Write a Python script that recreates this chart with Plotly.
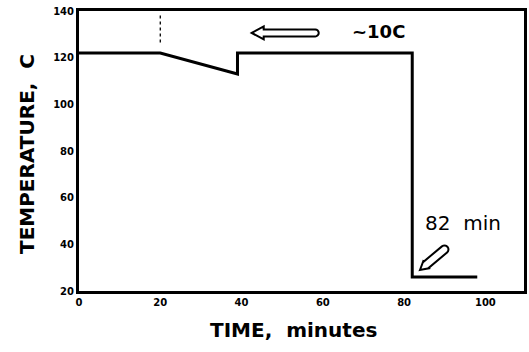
import numpy as np
import plotly.graph_objects as go

# Temperature profile over time
time_min = [0, 20, 39, 39, 82, 82, 98]
temp_c = [122, 122, 113, 122, 122, 26, 26]

x_ticks = [0, 20, 40, 60, 80, 100]
y_ticks = [20, 40, 60, 80, 100, 120, 140]

# dotted marker at the start of the ramp
marker_time = 20
marker_temp = [126.5, 139]


def hollow_arrow(length, head_len, head_half, shaft_half, angle_deg):
    """Outline of a hollow arrow, tip at the origin, in pixel offsets (y up)."""
    pts = [(0, 0), (head_len, head_half), (head_len, shaft_half),
           (length - shaft_half, shaft_half)]
    # rounded tail
    for a in np.linspace(90, -90, 9)[1:-1]:
        r = np.radians(a)
        pts.append((length - shaft_half + shaft_half * np.cos(r), shaft_half * np.sin(r)))
    pts += [(length - shaft_half, -shaft_half), (head_len, -shaft_half),
            (head_len, -head_half)]
    t = np.radians(angle_deg)
    c, s = np.cos(t), np.sin(t)
    rot = [(px * c - py * s, px * s + py * c) for px, py in pts]
    return "M" + " L".join(f"{px:.2f},{py:.2f}" for px, py in rot) + " Z"


FONT = "DejaVu Sans"

fig = go.Figure()
fig.add_trace(go.Scatter(x=time_min, y=temp_c, mode="lines",
                         line=dict(color="black", width=3), showlegend=False))
fig.add_trace(go.Scatter(x=[marker_time, marker_time], y=marker_temp, mode="lines",
                         line=dict(color="black", width=1.3, dash="dot"), showlegend=False))

# left-pointing arrow next to the "~10C" note
fig.add_shape(type="path", xref="x", yref="y", xsizemode="pixel", ysizemode="pixel",
              xanchor=42.5, yanchor=130.6,
              path=hollow_arrow(67, 12, 6.5, 3.5, 0),
              line=dict(color="black", width=2), fillcolor="white")
# diagonal arrow pointing at the drop time
fig.add_shape(type="path", xref="x", yref="y", xsizemode="pixel", ysizemode="pixel",
              xanchor=83.9, yanchor=29,
              path=hollow_arrow(36, 8, 4.5, 4, 40),
              line=dict(color="black", width=2), fillcolor="white")

fig.add_annotation(x=73.6, y=131.4, text="<b>~10C</b>", showarrow=False,
                   font=dict(family=FONT, size=18, color="black"))
fig.add_annotation(x=94.6, y=49.1, text="82  min", showarrow=False,
                   font=dict(family=FONT, size=20, color="black"))

# axis titles
fig.add_annotation(xref="paper", yref="paper", x=-0.118, y=0.491, xanchor="center",
                   yanchor="middle", textangle=-90, showarrow=False,
                   text="<b>TEMPERATURE,  C</b>",
                   font=dict(family=FONT, size=20, color="black"))
fig.add_annotation(xref="paper", yref="paper", x=0.482, y=-0.139, xanchor="center",
                   yanchor="middle", showarrow=False,
                   text="<b>TIME,  minutes</b>",
                   font=dict(family=FONT, size=20, color="black"))

axis_common = dict(showline=True, mirror=True, linecolor="black", linewidth=3,
                   showgrid=False, zeroline=False, ticks="",
                   tickfont=dict(family=FONT, size=10, color="black"))
fig.update_xaxes(range=[0, 109.5], tickvals=x_ticks,
                 ticktext=[f"<b>{v}</b>" for v in x_ticks], **axis_common)
fig.update_yaxes(range=[20, 140], tickvals=y_ticks,
                 ticktext=[f"<b>{v}</b>" for v in y_ticks], **axis_common)

fig.update_layout(width=529, height=352, margin=dict(l=79, r=2, t=11, b=61),
                  plot_bgcolor="white", paper_bgcolor="white")
fig.write_html("out.html")
